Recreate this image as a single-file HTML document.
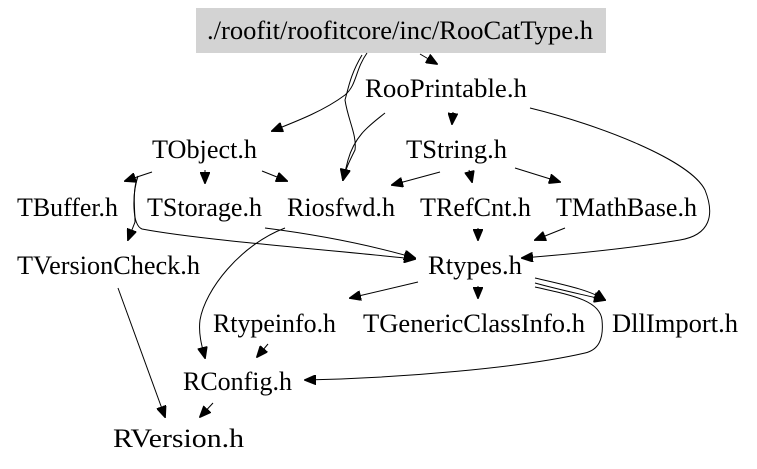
<!DOCTYPE html>
<html><head><meta charset="utf-8"><style>
html,body{margin:0;padding:0;background:#fff;width:757px;height:469px;overflow:hidden}
text{font-family:"Liberation Serif","DejaVu Serif",serif;font-size:26px;fill:#000}
path{fill:none;stroke:#000;stroke-width:1}
</style></head><body>
<svg width="757" height="469" viewBox="0 0 757 469" xmlns="http://www.w3.org/2000/svg">
<defs><marker id="a" markerWidth="12" markerHeight="10" refX="11" refY="5" orient="auto" markerUnits="userSpaceOnUse"><path d="M0,0 L12,5 L0,10 Z" style="fill:#000;stroke:#000"/></marker></defs>
<rect x="196" y="8" width="410" height="45" fill="#d3d3d3"/>
<g lengthAdjust="spacingAndGlyphs">
<text x="207" y="39" textLength="386" lengthAdjust="spacingAndGlyphs">./roofit/roofitcore/inc/RooCatType.h</text>
<text x="365" y="97" textLength="162" lengthAdjust="spacingAndGlyphs">RooPrintable.h</text>
<text x="152" y="158" textLength="105" lengthAdjust="spacingAndGlyphs">TObject.h</text>
<text x="406" y="158" textLength="101" lengthAdjust="spacingAndGlyphs">TString.h</text>
<text x="17" y="216" textLength="101" lengthAdjust="spacingAndGlyphs">TBuffer.h</text>
<text x="147" y="216" textLength="115" lengthAdjust="spacingAndGlyphs">TStorage.h</text>
<text x="287" y="216" textLength="108" lengthAdjust="spacingAndGlyphs">Riosfwd.h</text>
<text x="420" y="216" textLength="111" lengthAdjust="spacingAndGlyphs">TRefCnt.h</text>
<text x="556" y="216" textLength="141" lengthAdjust="spacingAndGlyphs">TMathBase.h</text>
<text x="17" y="274" textLength="183" lengthAdjust="spacingAndGlyphs">TVersionCheck.h</text>
<text x="428" y="274" textLength="94" lengthAdjust="spacingAndGlyphs">Rtypes.h</text>
<text x="213" y="332" textLength="123" lengthAdjust="spacingAndGlyphs">Rtypeinfo.h</text>
<text x="363" y="332" textLength="222" lengthAdjust="spacingAndGlyphs">TGenericClassInfo.h</text>
<text x="612" y="332" textLength="126" lengthAdjust="spacingAndGlyphs">DllImport.h</text>
<text x="183" y="390" textLength="109" lengthAdjust="spacingAndGlyphs">RConfig.h</text>
<text x="113" y="447" textLength="131" lengthAdjust="spacingAndGlyphs">RVersion.h</text>
</g>
<g marker-end="url(#a)">
<path d="M420,54 L437,64"/>
<path d="M367,53 C355,70 357,85 345,95 C325,110 300,120 272,131"/>
<path d="M362,55 C350,75 348,90 345,100 C348,120 357,135 355,150 C350,160 345,170 343,180"/>
<path d="M385,113 C370,125 355,135 348,160 L343,180"/>
<path d="M453,112 L452,124"/>
<path d="M530,108 C600,125 690,160 705,190 C715,215 710,235 680,240 C620,250 560,255 522,258"/>
<path d="M205,170 L205,183"/>
<path d="M262,171 L287,181"/>
<path d="M152,172 L125,181"/>
<path d="M138,176 C132,190 135,210 135,222 L128,240"/>
<path d="M138,176 C132,195 132,225 142,229 C200,240 330,250 415,259"/>
<path d="M265,228 C320,235 370,245 415,258"/>
<path d="M440,172 L392,185"/>
<path d="M469,170 L472,182"/>
<path d="M515,168 L560,182"/>
<path d="M285,228 C240,245 205,290 200,320 C198,335 203,350 205,358"/>
<path d="M478,228 L478,240"/>
<path d="M565,228 L535,240"/>
<path d="M418,282 L350,298"/>
<path d="M478,286 L478,298"/>
<path d="M535,278 C565,285 590,290 605,300"/>
<path d="M535,283 C560,290 585,295 605,300"/>
<path d="M535,287 C570,295 600,300 602,320 C604,340 598,350 585,353 C520,368 400,378 305,380"/>
<path d="M268,344 L257,357"/>
<path d="M118,288 L165,417"/>
<path d="M213,403 L200,417"/>
</g>
</svg>
</body></html>
